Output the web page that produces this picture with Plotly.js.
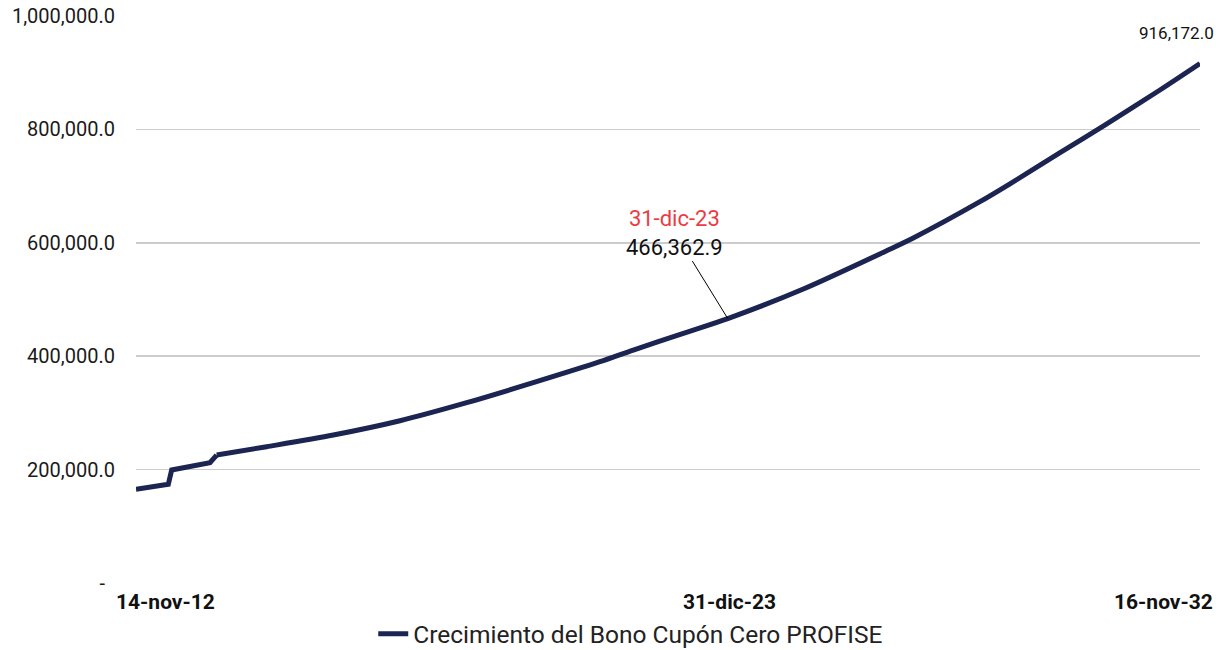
<!DOCTYPE html>
<html>
<head>
<meta charset="utf-8">
<script src="https://cdn.plot.ly/plotly-3.0.1.min.js"></script>
<style>
  html, body { margin: 0; padding: 0; background: #ffffff; }
  #chart { width: 1220px; height: 650px; }
</style>
</head>
<body>
<div id="chart"></div>
<script>
// ---- Data ----
const seriesName = 'Crecimiento del Bono Cupón Cero PROFISE';
// early part with the two step-ups
const datesStart = ['2012-11-14','2013-06-24','2013-07-17','2014-04-06','2014-05-22'];
const valuesStart = [165300,174100,199300,212200,225700];
// smooth growth afterwards
const datesGrowth = ['2014-05-22','2015-05-01','2016-07-31','2017-11-01','2019-02-02','2020-05-04',
  '2021-08-05','2022-03-22','2023-03-01','2023-12-31','2025-06-02','2026-12-26','2027-06-27',
  '2028-09-27','2029-04-21','2030-03-31','2031-02-04','2032-02-15','2032-11-16'];
const valuesGrowth = [225700,240400,261000,286200,318000,353300,
  390300,410900,440400,466362.9,518500,586000,608500,
  672500,704000,759000,808000,869500,916172.0];

const xTickVals = ['2012-11-14','2023-12-31','2032-11-16'];
const xTickText = ['14-nov-12','31-dic-23','16-nov-32'];
const yTickVals = [0,200000,400000,600000,800000,1000000];
const yTickText = ['-\u00a0\u00a0','200,000.0','400,000.0','600,000.0','800,000.0','1,000,000.0'];

const markDate = '2023-12-31';
const markValue = 466362.9;
const markLabel = '31-dic-23';
const markValueText = '466,362.9';
const endDate = '2032-11-16';
const endValue = 916172.0;
const endValueText = '916,172.0';

// ---- Styles ----
const navy = '#1c2451';
const grid = '#cccccc';
const font = 'Roboto, "Open Sans", sans-serif';

const traceStart = {
  type: 'scatter', mode: 'lines',
  x: datesStart, y: valuesStart, name: seriesName, showlegend: false,
  line: { color: navy, width: 5 }, hoverinfo: 'skip'
};
const traceGrowth = {
  type: 'scatter', mode: 'lines',
  x: datesGrowth, y: valuesGrowth, name: seriesName, showlegend: true,
  line: { color: navy, width: 5, shape: 'spline', smoothing: 0.8 }, hoverinfo: 'skip'
};

const xAnchors = ['left','center','right'];
const xShifts = [-22, 2, 15];
const xLabelAnn = xTickVals.map((d, i) => ({
  x: d, xref: 'x', y: 0, yref: 'paper', yanchor: 'top', yshift: -5,
  xanchor: xAnchors[i], xshift: xShifts[i],
  text: '<b>' + xTickText[i] + '</b>', showarrow: false,
  font: { family: font, size: 21, color: '#111111' }
}));

const layout = {
  width: 1220, height: 650,
  margin: { l: 136, r: 20, t: 16, b: 67 },
  paper_bgcolor: '#ffffff', plot_bgcolor: '#ffffff',
  font: { family: font, color: '#222222' },
  showlegend: true,
  legend: {
    orientation: 'h', xref: 'container', yref: 'container',
    x: 0.517, xanchor: 'center', y: 0.025, yanchor: 'middle',
    font: { family: font, size: 24.5, color: '#222222' }
  },
  xaxis: {
    type: 'date',
    range: [datesStart[0], datesGrowth[datesGrowth.length - 1]],
    showgrid: false, zeroline: false, showline: false,
    showticklabels: false, ticks: ''
  },
  yaxis: {
    range: [0, 1000000],
    tickmode: 'array', tickvals: yTickVals, ticktext: yTickText,
    showgrid: true, gridcolor: grid, gridwidth: 1.5,
    zeroline: false, showline: false, ticks: '',
    ticklabelstandoff: 20,
    tickfont: { family: font, size: 20, color: '#1a1a1a' }
  },
  annotations: xLabelAnn.concat([
    {
      x: markDate, y: markValue, xref: 'x', yref: 'y',
      text: '<span style="color:#ee3a43">' + markLabel + '</span><br>' + markValueText,
      showarrow: true, arrowhead: 0, arrowwidth: 1, arrowcolor: '#000000',
      ax: -53, ay: -86, align: 'center',
      font: { family: font, size: 22, color: '#111111' }
    },
    {
      x: endDate, y: endValue, xref: 'x', yref: 'y',
      text: endValueText, showarrow: false,
      xshift: -24, yshift: 31,
      font: { family: font, size: 17, color: '#111111' }
    }
  ])
};

Plotly.newPlot('chart', [traceStart, traceGrowth], layout, { displayModeBar: false, staticPlot: true });
</script>
</body>
</html>
